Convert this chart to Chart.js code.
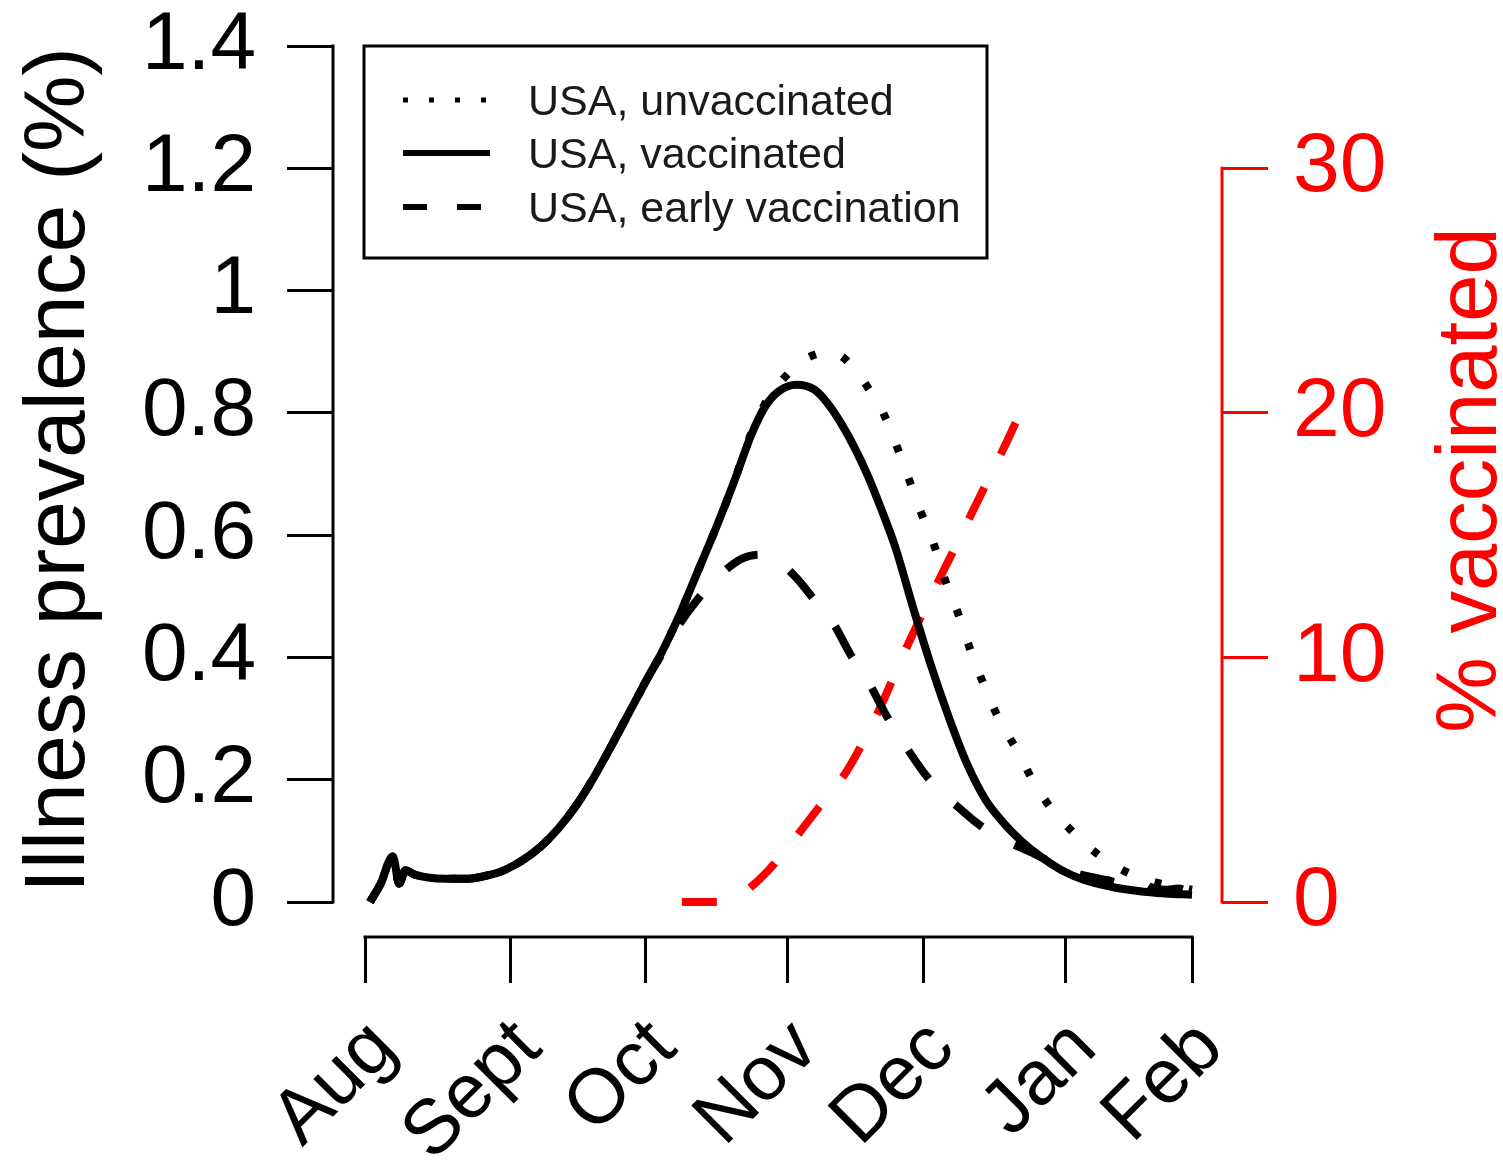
<!DOCTYPE html>
<html><head><meta charset="utf-8">
<script src="https://cdn.jsdelivr.net/npm/chart.js@4/dist/chart.umd.min.js"></script>
<style>html,body{margin:0;padding:0;background:#fff;}canvas{display:block;}</style>
</head><body>
<canvas id="c" width="1503" height="1162"></canvas>
<script>
// ---------- data ----------
const monthTickDays = [0, 32.3, 62.3, 93.9, 124.2, 155.8, 184];
const monthLabels = ['Aug', 'Sept', 'Oct', 'Nov', 'Dec', 'Jan', 'Feb'];
const prevalenceTicks = [0, 0.2, 0.4, 0.6, 0.8, 1, 1.2, 1.4];
const prevalenceTickLabels = ['0', '0.2', '0.4', '0.6', '0.8', '1', '1.2', '1.4'];
const vaccTicks = [0, 10, 20, 30];
const vaccTickLabels = ['0', '10', '20', '30'];
const seriesNames = ['USA, unvaccinated', 'USA, vaccinated', 'USA, early vaccination'];
const leftTitle = 'Illness prevalence (%)';
const rightTitle = '% vaccinated';

const vaccinatedDays = [1.1, 3.5, 6.2, 7.6, 9, 11, 14, 18, 23, 27, 31, 35, 39, 43, 47, 51, 55, 59, 63, 66, 70, 74, 78, 82, 86, 89, 92, 96, 100, 103, 106, 109, 112, 115, 118, 122, 126, 130, 134, 138, 142, 146, 150, 155, 160, 166, 172, 178, 184];
const vaccinatedPrev = [0, 0.03, 0.075, 0.03, 0.052, 0.045, 0.04, 0.038, 0.038, 0.043, 0.052, 0.068, 0.09, 0.12, 0.158, 0.205, 0.258, 0.313, 0.368, 0.408, 0.47, 0.54, 0.61, 0.685, 0.765, 0.81, 0.835, 0.846, 0.838, 0.815, 0.782, 0.742, 0.695, 0.64, 0.58, 0.48, 0.385, 0.30, 0.225, 0.168, 0.13, 0.1, 0.076, 0.052, 0.036, 0.025, 0.018, 0.014, 0.012];

const unvaccinatedDays = [1.1, 3.5, 6.2, 7.6, 9, 11, 14, 18, 23, 27, 31, 35, 39, 43, 47, 51, 55, 59, 63, 66, 70, 74, 78, 82, 86, 90, 93, 96.7, 100, 103.5, 106.5, 109.7, 112, 114.6, 117.7, 120.6, 123.5, 126.6, 129, 132, 134.8, 137.7, 141, 145.3, 149, 153, 157, 161, 165, 170, 177, 184];
const unvaccinatedPrev = [0, 0.03, 0.075, 0.03, 0.052, 0.045, 0.04, 0.038, 0.038, 0.043, 0.052, 0.068, 0.09, 0.12, 0.158, 0.205, 0.258, 0.313, 0.368, 0.408, 0.47, 0.54, 0.61, 0.685, 0.768, 0.828, 0.855, 0.882, 0.895, 0.90, 0.89, 0.864, 0.84, 0.811, 0.757, 0.70, 0.641, 0.584, 0.528, 0.471, 0.41, 0.355, 0.30, 0.245, 0.193, 0.15, 0.118, 0.09, 0.068, 0.047, 0.03, 0.02];

const earlyDays = [1.1, 3.5, 6.2, 7.6, 9, 11, 14, 18, 23, 27, 31, 35, 39, 43, 47, 51, 55, 59, 63, 66, 70, 74, 79, 84, 88, 92, 96, 100, 104, 108, 112, 116, 120, 124, 128, 132, 136, 140, 144, 148, 152, 155, 158, 161, 165, 169, 172, 175, 178, 181, 184];
const earlyPrev = [0, 0.03, 0.075, 0.03, 0.052, 0.045, 0.04, 0.038, 0.038, 0.043, 0.052, 0.068, 0.09, 0.12, 0.158, 0.205, 0.258, 0.313, 0.368, 0.405, 0.455, 0.495, 0.535, 0.562, 0.568, 0.557, 0.53, 0.494, 0.458, 0.405, 0.36, 0.305, 0.258, 0.215, 0.18, 0.155, 0.13, 0.11, 0.095, 0.082, 0.068, 0.062, 0.048, 0.042, 0.036, 0.03, 0.036, 0.024, 0.02, 0.022, 0.015];

const pctVaccDays = [70.5, 79, 83, 87, 91, 95, 99, 103, 107, 111, 115, 119, 123, 127, 131, 135, 139, 143, 146.5];
const pctVaccinated = [0, 0, 0.25, 0.8, 1.55, 2.45, 3.4, 4.35, 5.3, 6.6, 8.1, 9.8, 11.4, 12.9, 14.4, 15.9, 17.4, 18.9, 20.3];

// ---------- helpers ----------
const FONT = '"Liberation Sans", Arial, Helvetica, sans-serif';
const RED = '#ff0000';
const toXY = (xs, ys) => xs.map((v, i) => ({x: v, y: ys[i]}));
const noPad = s => { s.paddingTop = 0; s.paddingBottom = 0; s.paddingLeft = 0; s.paddingRight = 0; };

const rStylePlugin = {
  id: 'rStyle',
  afterDraw(chart) {
    const ctx = chart.ctx;
    const sx = chart.scales.x, sy = chart.scales.y, sr = chart.scales.yR;
    ctx.save();
    ctx.lineCap = 'square';
    ctx.lineWidth = 3;
    ctx.strokeStyle = '#000';
    ctx.beginPath();
    ctx.moveTo(sy.right, sy.getPixelForValue(prevalenceTicks[0]));
    ctx.lineTo(sy.right, sy.getPixelForValue(prevalenceTicks[prevalenceTicks.length - 1]));
    ctx.stroke();
    ctx.beginPath();
    ctx.moveTo(sx.getPixelForValue(monthTickDays[0]), sx.top);
    ctx.lineTo(sx.getPixelForValue(monthTickDays[monthTickDays.length - 1]), sx.top);
    ctx.stroke();
    ctx.strokeStyle = RED;
    ctx.beginPath();
    ctx.moveTo(sr.left, sr.getPixelForValue(vaccTicks[0]));
    ctx.lineTo(sr.left, sr.getPixelForValue(vaccTicks[vaccTicks.length - 1]));
    ctx.stroke();

    // right axis title (reads bottom-to-top)
    ctx.fillStyle = RED;
    ctx.font = '85px ' + FONT;
    ctx.textAlign = 'center';
    ctx.textBaseline = 'alphabetic';
    ctx.translate(1496, 480);
    ctx.rotate(-Math.PI / 2);
    ctx.fillText(rightTitle, 0, 0);
    ctx.restore();

    // legend
    ctx.save();
    const box = {l: 364, t: 46, r: 987, b: 258};
    ctx.fillStyle = '#fff';
    ctx.fillRect(box.l, box.t, box.r - box.l, box.b - box.t);
    ctx.strokeStyle = '#000';
    ctx.lineWidth = 3;
    ctx.strokeRect(box.l, box.t, box.r - box.l, box.b - box.t);
    const rows = [
      {name: seriesNames[0], dash: [5, 21], w: 5, y: 100},
      {name: seriesNames[1], dash: [], w: 6, y: 153},
      {name: seriesNames[2], dash: [24, 30], w: 6, y: 207}
    ];
    rows.forEach(r => {
      ctx.strokeStyle = '#000';
      ctx.lineWidth = r.w;
      ctx.lineCap = 'butt';
      ctx.setLineDash(r.dash);
      ctx.beginPath();
      ctx.moveTo(403, r.y);
      ctx.lineTo(490, r.y);
      ctx.stroke();
      ctx.setLineDash([]);
      ctx.fillStyle = '#1a1a1a';
      ctx.font = '43px ' + FONT;
      ctx.textAlign = 'left';
      ctx.textBaseline = 'middle';
      ctx.fillText(r.name, 528, r.y + 3);
    });
    ctx.restore();
  }
};

new Chart(document.getElementById('c'), {
  type: 'line',
  data: {
    datasets: [
      {label: seriesNames[1], data: toXY(vaccinatedDays, vaccinatedPrev), borderColor: '#000', borderWidth: 8, yAxisID: 'y'},
      {label: seriesNames[2], data: toXY(earlyDays, earlyPrev), borderColor: '#000', borderWidth: 8, borderDash: [35, 37], borderDashOffset: 0, yAxisID: 'y'},
      {label: seriesNames[0], data: toXY(unvaccinatedDays, unvaccinatedPrev), borderColor: '#000', borderWidth: 8, borderDash: [7, 28], yAxisID: 'y'},
      {label: rightTitle, data: toXY(pctVaccDays, pctVaccinated), borderColor: RED, borderWidth: 8, borderDash: [35, 37], yAxisID: 'yR'}
    ]
  },
  options: {
    responsive: false,
    animation: false,
    elements: {
      point: {radius: 0, hoverRadius: 0},
      line: {cubicInterpolationMode: 'monotone', fill: false, borderCapStyle: 'butt', borderJoinStyle: 'round'}
    },
    layout: {padding: {top: 3, left: 0, right: 0, bottom: 0}},
    plugins: {legend: {display: false}, tooltip: {enabled: false}, title: {display: false}},
    scales: {
      x: {
        type: 'linear', position: 'bottom', min: -7.12, max: 190.67,
        afterBuildTicks: s => { s.ticks = monthTickDays.map(v => ({value: v})); },
        afterFit: s => { s.height = 225; noPad(s); },
        grid: {drawOnChartArea: false, drawTicks: true, tickLength: 46, tickWidth: 3, tickColor: '#000'},
        border: {display: false},
        ticks: {autoSkip: false, minRotation: 45, maxRotation: 45, padding: 20, labelOffset: 19, color: '#000',
                font: {family: FONT, size: 77}, callback: (v, i) => monthLabels[i]}
      },
      y: {
        type: 'linear', position: 'left', min: -0.05724, max: 1.47033,
        afterBuildTicks: s => { s.ticks = prevalenceTicks.map(v => ({value: v})); },
        afterFit: s => { s.width = 333; noPad(s); },
        grid: {drawOnChartArea: false, drawTicks: true, tickLength: 46, tickWidth: 3, tickColor: '#000'},
        border: {display: false},
        ticks: {padding: 31, color: '#000', font: {family: FONT, size: 82}, callback: (v, i) => prevalenceTickLabels[i]},
        title: {display: true, text: leftTitle, color: '#000', font: {family: FONT, size: 86}, padding: {top: 9, bottom: 0}}
      },
      yR: {
        type: 'linear', position: 'right', min: -1.431, max: 36.758,
        afterBuildTicks: s => { s.ticks = vaccTicks.map(v => ({value: v})); },
        afterFit: s => { s.width = 281; noPad(s); },
        grid: {drawOnChartArea: false, drawTicks: true, tickLength: 46, tickWidth: 3, tickColor: RED},
        border: {display: false},
        ticks: {padding: 25, color: RED, font: {family: FONT, size: 84}, callback: (v, i) => vaccTickLabels[i]}
      }
    }
  },
  plugins: [rStylePlugin]
});
</script>
</body></html>
